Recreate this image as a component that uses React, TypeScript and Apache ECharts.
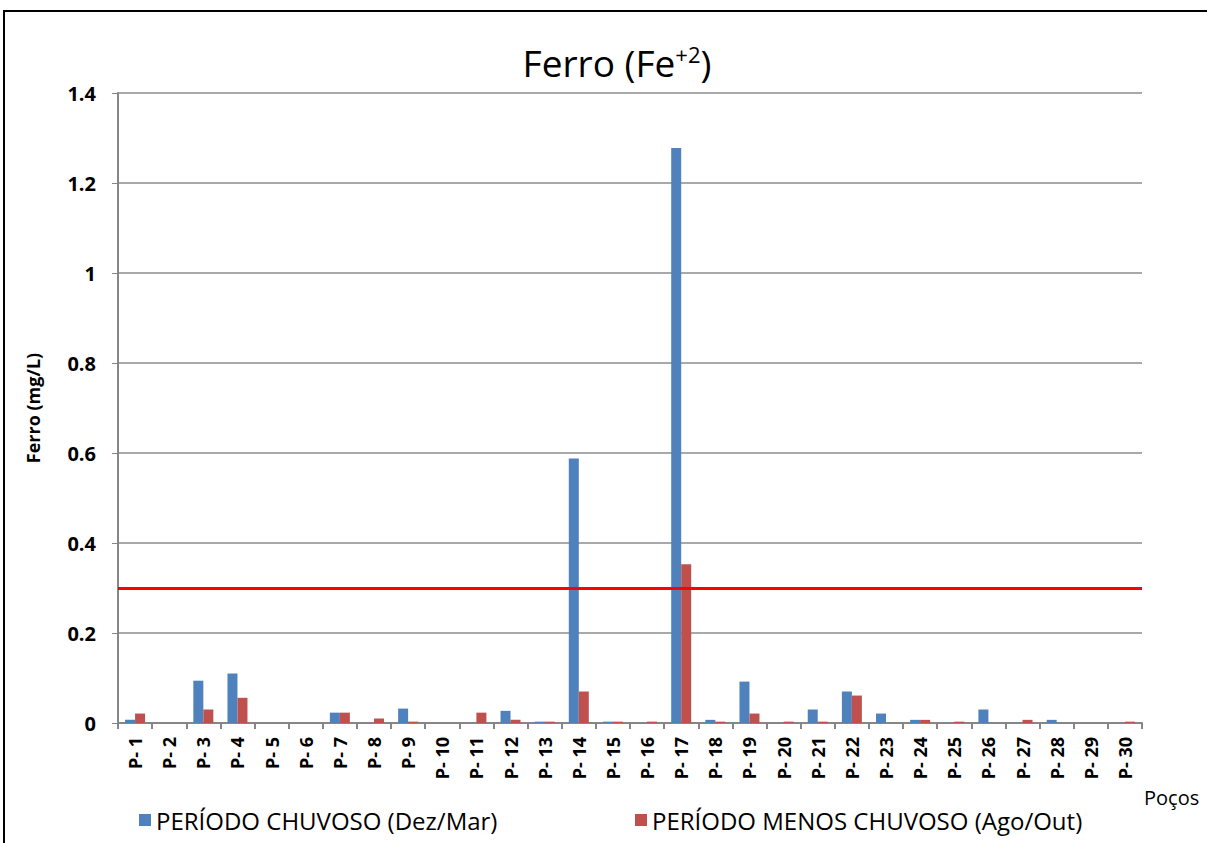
import React, { useEffect, useRef } from "react";
import * as echarts from "echarts";

const categories = ["P-1","P-2","P-3","P-4","P-5","P-6","P-7","P-8","P-9","P-10","P-11","P-12","P-13","P-14","P-15","P-16","P-17","P-18","P-19","P-20","P-21","P-22","P-23","P-24","P-25","P-26","P-27","P-28","P-29","P-30"];
const chuvoso = [0.007,0,0.094,0.11,0,0,0.023,0,0.032,0,0,0.027,0.003,0.588,0.003,0,1.278,0.007,0.092,0,0.03,0.07,0.021,0.007,0,0.03,0,0.007,0,0];
const menosChuvoso = [0.021,0,0.03,0.056,0,0,0.023,0.01,0.003,0,0.023,0.007,0.003,0.07,0.003,0.003,0.353,0.003,0.021,0.003,0.003,0.061,0,0.007,0.003,0,0.007,0,0,0.003];
const limite = 0.3;
const seriesNames = ["PERÍODO CHUVOSO (Dez/Mar)", "PERÍODO MENOS CHUVOSO (Ago/Out)"];

const FONT = "'Open Sans', sans-serif";

export default function App() {
  const ref = useRef<HTMLDivElement>(null);
  useEffect(() => {
    const chart = echarts.init(ref.current!, null, { renderer: "svg" });
    chart.setOption({
      animation: false,
      backgroundColor: "#ffffff",
      textStyle: { fontFamily: FONT },
      title: {
        text: "Ferro (Fe{sup|+2})",
        left: 612,
        textAlign: "center",
        top: 38,
        textStyle: {
          fontFamily: FONT,
          fontSize: 37,
          fontWeight: "normal",
          color: "#000",
          rich: {
            sup: { fontFamily: FONT, fontSize: 22, verticalAlign: "top", padding: [0, 0, 16, 0], color: "#000" },
          },
        },
      },
      graphic: [
        {
          type: "rect",
          shape: { x: 4, y: 11, width: 1220, height: 850 },
          style: { fill: "none", stroke: "#000", lineWidth: 2 },
          silent: true,
        },
      ],
      legend: [
        {
          data: [seriesNames[0]],
          left: 134,
          top: 803,
          itemWidth: 12,
          itemHeight: 12,
          icon: "rect",
          textStyle: { fontFamily: FONT, fontSize: 24, color: "#000" },
        },
        {
          data: [seriesNames[1]],
          left: 630,
          top: 803,
          itemWidth: 12,
          itemHeight: 12,
          icon: "rect",
          textStyle: { fontFamily: FONT, fontSize: 24, color: "#000" },
        },
      ],
      grid: { left: 118, right: 65, top: 93, bottom: 120, containLabel: false },
      xAxis: {
        type: "category",
        data: categories,
        name: "Poços",
        nameLocation: "end",
        nameGap: 0,
        nameTextStyle: { fontFamily: FONT, fontSize: 20, color: "#000", align: "left", verticalAlign: "top", padding: [64, 0, 0, 2] },
        axisLine: { lineStyle: { color: "#868686", width: 2 } },
        axisTick: { show: true, alignWithLabel: false, length: 6, lineStyle: { color: "#868686", width: 2 } },
        axisLabel: { rotate: 90, interval: 0, fontFamily: FONT, fontSize: 18, fontWeight: "bold", color: "#000", margin: 14, formatter: (v: string) => v.replace("-", "- ") },
      },
      yAxis: {
        type: "value",
        min: 0,
        max: 1.4,
        interval: 0.2,
        name: "Ferro (mg/L)",
        nameLocation: "middle",
        nameGap: 76,
        nameRotate: 90,
        nameTextStyle: { fontFamily: FONT, fontSize: 18, fontWeight: "bold", color: "#000" },
        axisLine: { show: true, lineStyle: { color: "#868686", width: 2 } },
        axisTick: { show: true, length: 6, lineStyle: { color: "#868686", width: 1 } },
        axisLabel: { fontFamily: FONT, fontSize: 20, fontWeight: "bold", color: "#000", margin: 22 },
        splitLine: { show: true, lineStyle: { color: "#8c8c8c", width: 1.5 } },
      },
      series: [
        {
          name: seriesNames[0],
          type: "bar",
          data: chuvoso,
          barWidth: 10,
          barGap: "0%",
          itemStyle: { color: "#4f81bd" },
          markLine: {
            silent: true,
            symbol: "none",
            label: { show: false },
            lineStyle: { color: "#ff0000", width: 3, type: "solid" },
            data: [{ yAxis: limite }],
          },
        },
        {
          name: seriesNames[1],
          type: "bar",
          data: menosChuvoso,
          barWidth: 10,
          barGap: "0%",
          itemStyle: { color: "#c0504d" },
        },
      ],
    });
    return () => chart.dispose();
  }, []);
  return <div ref={ref} style={{ width: 1207, height: 843, position: "absolute", left: 0, top: 0 }} />;
}
